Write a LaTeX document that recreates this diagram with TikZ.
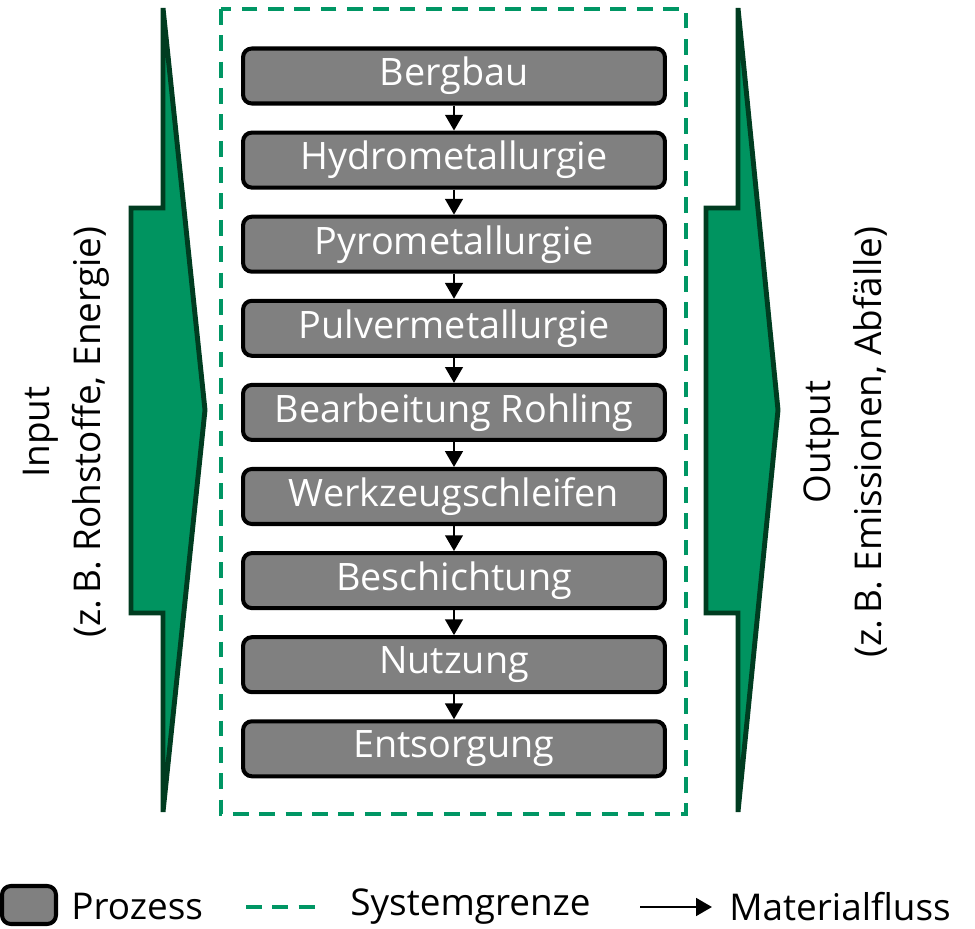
\documentclass[tikz,border=0pt]{standalone}
\usepackage{fontspec}
\setmainfont{Open Sans}
\usetikzlibrary{arrows.meta}
\definecolor{arrowgreen}{RGB}{0,148,96}
\definecolor{darkgreen}{RGB}{0,60,32}
\definecolor{boundgreen}{RGB}{0,150,100}
\definecolor{procgray}{RGB}{128,128,128}
\tikzset{
    prozess/.style={draw=black,fill=procgray,line width=2.3pt,rounded corners=5pt,
        minimum width=8.44cm,minimum height=1.1cm,text=white,inner sep=0pt,
        font=\fontsize{21.5}{24}\selectfont},
    flow/.style={-{Triangle[width=10pt,length=9pt]},line width=1.4pt},
    bigarrow/.style={fill=arrowgreen,draw=darkgreen,line width=2.8pt,miter limit=4},
    grenze/.style={draw=boundgreen,line width=2pt,dash pattern=on 9pt off 6pt},
    legtext/.style={anchor=west,inner sep=0pt,font=\fontsize{21}{24}\selectfont}
}
\begin{document}
\begin{tikzpicture}[x=0.02cm,y=-0.02cm]
        \useasboundingbox (0,0) rectangle (975,929);
        % input / output
        \draw[bigarrow] (163,8)--(205,410)--(163,812)--(163,613)--(131,613)--(131,208)--(163,208)--cycle;
        \draw[bigarrow] (738,8)--(778,410)--(738,812)--(738,613)--(706,613)--(706,208)--(738,208)--cycle;
        \node[rotate=90,align=center,font=\fontsize{21}{29}\selectfont](input)at(66,432){Input\\(z.\,B. Rohstoffe, Energie)};
        \node[rotate=90,align=center,font=\fontsize{21}{29}\selectfont](output)at(846,442){Output\\(z.\,B. Emissionen, Abfälle)};
        % system boundary
        \draw[grenze] (221,9) rectangle (686,814);
        % processes
        \foreach \name/\txt [count=\i] in {bergbau/Bergbau,hydro/Hydrometallurgie,pyro/Pyrometallurgie,
            pulver/Pulvermetallurgie,rohling/Bearbeitung Rohling,schleifen/Werkzeugschleifen,
            beschichtung/Beschichtung,nutzung/Nutzung,entsorgung/Entsorgung}
            \node[prozess](\name)at(454,{76+84.1*(\i-1)}){\txt};
        \draw[flow](bergbau)--(hydro);
        \draw[flow](hydro)--(pyro);
        \draw[flow](pyro)--(pulver);
        \draw[flow](pulver)--(rohling);
        \draw[flow](rohling)--(schleifen);
        \draw[flow](schleifen)--(beschichtung);
        \draw[flow](beschichtung)--(nutzung);
        \draw[flow](nutzung)--(entsorgung);
        % legend
        \node[draw=black,fill=procgray,line width=2.3pt,rounded corners=5pt,minimum width=1.08cm,minimum height=0.76cm](legbox)at(29,905){};
        \node[legtext](legprozess)at(71,907){Prozess};
        \coordinate(gl)at(246,907);
        \coordinate(gr)at(318,907);
        \draw[grenze](gl)--(gr);
        \node[legtext](leggrenze)at(350,907){Systemgrenze};
        \coordinate(fl)at(640,907);
        \coordinate(fr)at(712,907);
        \draw[flow](fl)--(fr);
        \node[legtext](legfluss)at(729,907){Materialfluss};
    \end{tikzpicture}
\end{document}
